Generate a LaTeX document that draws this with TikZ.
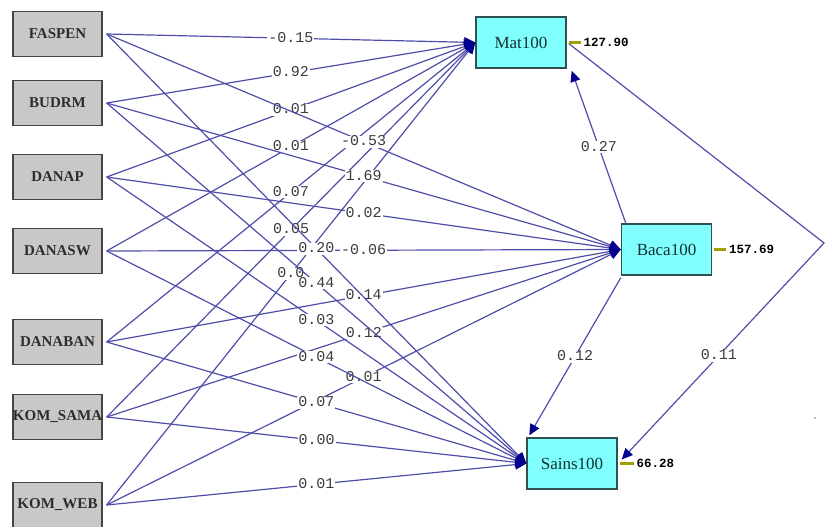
\documentclass[tikz,border=0pt]{standalone}
\usepackage{fontspec}
\setmainfont{Liberation Serif}
\newfontfamily\lblfont{Liberation Mono}
\usetikzlibrary{arrows.meta,calc}
\definecolor{edgeblue}{RGB}{78,78,170}
\definecolor{tipnavy}{RGB}{0,0,140}
\definecolor{boxgray}{RGB}{200,200,200}
\definecolor{boxline}{RGB}{70,70,70}
\definecolor{cyanfill}{RGB}{128,255,255}
\definecolor{cyanline}{RGB}{50,80,80}
\definecolor{errolive}{RGB}{160,160,0}
\definecolor{lbltext}{RGB}{60,60,60}
\definecolor{exotext}{RGB}{45,45,45}
\definecolor{endotext}{RGB}{20,50,50}
\begin{document}
\begin{tikzpicture}[x=1pt,y=-1pt,
  exo/.style={draw=boxline, line width=1.3pt, fill=boxgray, minimum width=89pt, minimum height=45pt, inner sep=0pt, font=\bfseries\fontsize{15}{15}\selectfont, text=exotext},
  endo/.style={draw=cyanline, line width=1.4pt, fill=cyanfill, minimum width=90pt, minimum height=51pt, inner sep=0pt, font=\fontsize{17}{17}\selectfont, text=endotext},
  pathln/.style={draw=edgeblue, line width=1.2pt, -{Triangle[length=11pt,width=10pt,color=tipnavy,fill=tipnavy]}},
  coef/.style={midway, fill=white, inner sep=1pt, text height=9pt, text depth=1pt, font=\lblfont\fontsize{15}{15}\selectfont, text=lbltext},
  errtxt/.style={font=\lblfont\bfseries\fontsize{12.5}{12.5}\selectfont, text=black, anchor=west, inner sep=1.5pt},
  errdash/.style={draw=errolive, line width=3pt}
]
\useasboundingbox (0,0) rectangle (825,527);

% exogenous variables
\node[exo] (fa) at (57.5,34) {FASPEN};
\node[exo] (bu) at (57.5,103) {BUDRM};
\node[exo] (dp) at (57.5,177) {DANAP};
\node[exo] (ds) at (57.5,251) {DANASW};
\node[exo] (db) at (57.5,342) {DANABAN};
\node[exo] (ks) at (57.5,417) {KOM\_SAMA};
\node[exo] (kw) at (57.5,505) {KOM\_WEB};

% endogenous variables
\node[endo] (m) at (521,42.5) {Mat100};
\node[endo] (b) at (666.5,249.5) {Baca100};
\node[endo] (s) at (572,463.5) {Sains100};

% paths to Mat100
\foreach \src/\v in {fa/-0.15, bu/0.92, dp/0.01, ds/0.01, db/0.07, ks/0.05, kw/0.0}
  \draw[pathln] ([xshift=4pt]\src.east) -- (m.west) node[coef] {\v};

% paths to Baca100
\foreach \src/\v in {fa/-0.53, bu/1.69, dp/0.02, ds/-0.06, db/0.14, ks/0.12, kw/0.01}
  \draw[pathln] ([xshift=4pt]\src.east) -- (b.west) node[coef] {\v};

% paths to Sains100
\foreach \src/\v in {fa/0.20, bu/0.44, dp/0.03, ds/0.04, db/0.07, ks/0.00, kw/0.01}
  \draw[pathln] ([xshift=4pt]\src.east) -- (s.west) node[coef] {\v};

% paths between endogenous variables
\draw[pathln] ($(b.north west)+(5,0)$) -- ($(m.south east)+(5,2)$) node[coef] {0.27};
\draw[pathln] ($(b.south west)+(0,2)$) -- ($(s.north west)+(3,-2)$) node[coef] {0.12};
\coordinate (bend) at (824,243);
\draw[pathln] ($(m.east)+(2,1)$) -- (bend) -- ($(s.east)+(4,-4)$) node[coef, pos=.52] {0.11};

% error variances
\draw[errdash] ([xshift=2pt]m.east) -- ++(12,0) node[errtxt] (em) {127.90};
\draw[errdash] ([xshift=2pt]b.east) -- ++(12,0) node[errtxt] (eb) {157.69};
\draw[errdash] ([xshift=2pt]s.east) -- ++(14,0) node[errtxt] (es) {66.28};

\fill[gray] (815,418) circle (0.9pt);
\end{tikzpicture}
\end{document}
